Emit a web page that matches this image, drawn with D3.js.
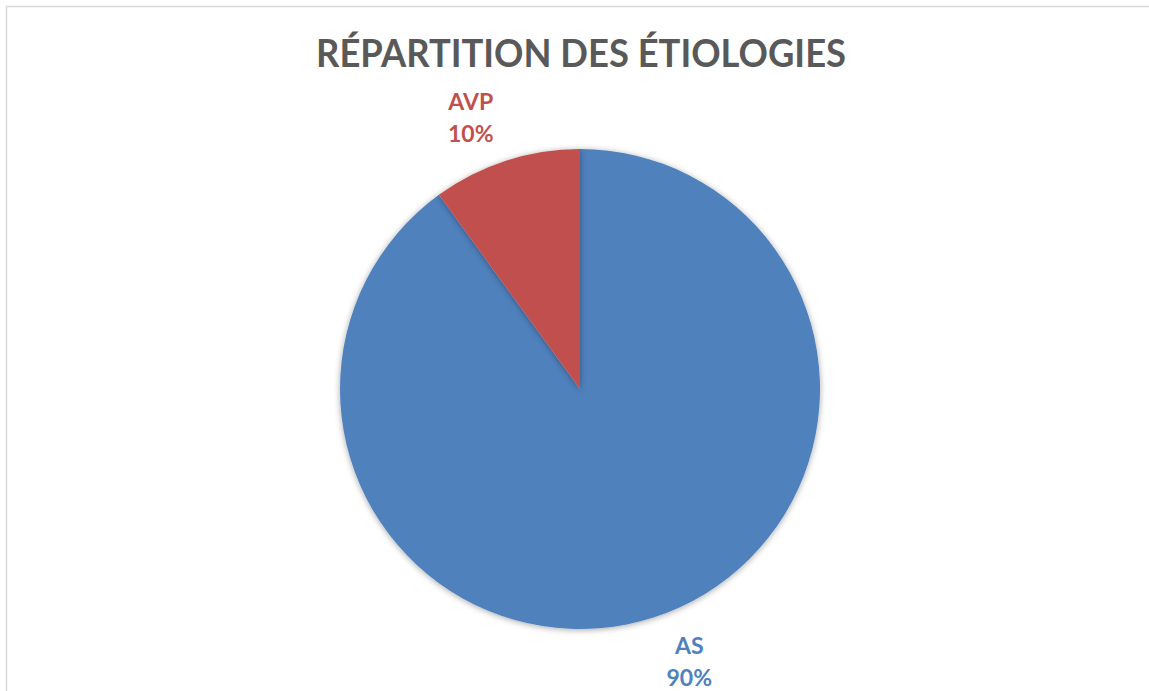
<!DOCTYPE html>
<html lang="fr">
<head>
  <meta charset="utf-8">
  <title>Répartition des étiologies</title>
  <style>
    body { margin: 0; background: #fff; }
    svg { display: block; font-family: Lato, "Open Sans", sans-serif; }
  </style>
</head>
<body>
  <script src="https://d3js.org/d3.v7.min.js"></script>
  <svg></svg>
  <script>

// data
var categories = ['AS', 'AVP'];
var values = [90, 10];
var colors = ['#4F81BD', '#C0504D'];
var title = 'RÉPARTITION DES ÉTIOLOGIES';

var width = 1149, height = 691;
var cx = 580, cy = 389, radius = 240;

var svg = d3.select('svg')
            .attr('width', width)
            .attr('height', height);

// soft shadow under the pie
var defs = svg.append('defs');
defs.append('filter')
    .attr('id', 'shadow')
    .attr('x', '-20%').attr('y', '-20%')
    .attr('width', '140%').attr('height', '140%')
    .append('feDropShadow')
    .attr('dx', 0).attr('dy', 1)
    .attr('stdDeviation', 3)
    .attr('flood-color', '#000')
    .attr('flood-opacity', 0.35);

// chart area border
svg.append('rect')
   .attr('x', 6.5).attr('y', 6.5)
   .attr('width', width + 10).attr('height', height + 10)
   .attr('fill', 'none')
   .attr('stroke', '#d9d9d9')
   .attr('stroke-width', 1.5);

// title (squeezed a little so it spans the same width as the original)
svg.append('text')
   .attr('x', 581)
   .attr('y', 67)
   .attr('text-anchor', 'middle')
   .attr('fill', '#595959')
   .attr('font-size', '39px')
   .attr('font-weight', 'bold')
   .attr('textLength', 530)
   .attr('lengthAdjust', 'spacingAndGlyphs')
   .text(title);

// pie keeps the original order: AS starts at 12 o'clock going clockwise
var pie = d3.pie().sort(null).value(function(d) { return d; });
var arcs = pie(values);
var arc = d3.arc().innerRadius(0).outerRadius(radius);

var g = svg.append('g')
   .attr('transform', 'translate(' + cx + ',' + cy + ')');

g.selectAll('path')
 .data(arcs)
 .enter()
 .append('path')
 .attr('d', arc)
 .attr('fill', function(d, i) { return colors[i]; })
 .attr('filter', 'url(#shadow)');

// labels sit just outside the pie, pushed a little away from the vertical axis
var labelR = 293, shift = 3.9 * Math.PI / 180;
var labels = g.selectAll('.lbl')
  .data(arcs)
  .enter()
  .append('text')
  .attr('class', 'lbl')
  .attr('text-anchor', 'middle')
  .attr('font-size', '23px')
  .attr('font-weight', 'bold')
  .attr('fill', function(d, i) { return colors[i]; })
  .attr('transform', function(d) {
    var a = (d.startAngle + d.endAngle) / 2;
    a += Math.sin(a) * Math.cos(a) < 0 ? -shift : shift;
    return 'translate(' + (labelR * Math.sin(a)) + ',' + (-labelR * Math.cos(a)) + ')';
  });

// two lines centred on the label point
labels.append('tspan')
  .attr('x', 0).attr('y', -7)
  .text(function(d, i) { return categories[i]; });
labels.append('tspan')
  .attr('x', 0).attr('y', 25)
  .text(function(d, i) { return values[i] + '%'; });

  </script>
</body>
</html>
